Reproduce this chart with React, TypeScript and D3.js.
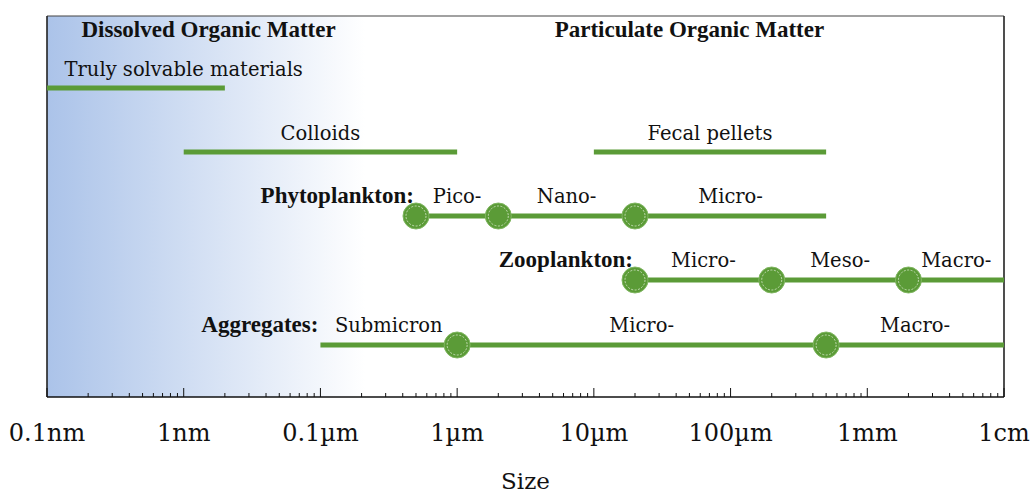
import React from "react";
import * as d3 from "d3";

const tickValues = [1e-10, 1e-9, 1e-8, 1e-7, 1e-6, 1e-5, 1e-4, 1e-3];
const tickLabels = ["0.1nm", "1nm", "0.1µm", "1µm", "10µm", "100µm", "1mm", "1cm"];

const headers = [
  { text: "Dissolved Organic Matter", at: 1.52e-9 },
  { text: "Particulate Organic Matter", at: 5e-6 },
];

// simple ranges: [start, end], label anchor value, row
const simpleRanges = [
  { name: "Truly solvable materials", start: 1e-10, end: 2e-9, labelAt: 1e-9, row: 0 },
  { name: "Colloids", start: 1e-9, end: 1e-7, labelAt: 1e-8, row: 1 },
  { name: "Fecal pellets", start: 1e-6, end: 5e-5, labelAt: 7.07e-6, row: 1 },
];

const phytoPoints = [5e-8, 2e-7, 2e-6];
const phytoEnd = 5e-5;
const phytoLabels = ["Pico-", "Nano-", "Micro-"];

const zooPoints = [2e-6, 2e-5, 2e-4];
const zooEnd = 1e-3;
const zooLabels = ["Micro-", "Meso-", "Macro-"];

const aggStart = 1e-8;
const aggPoints = [1e-7, 5e-5];
const aggEnd = 1e-3;
const aggLabels = ["Submicron", "Micro-", "Macro-"];

const W = 1032;
const H = 493;
const left = 47;
const right = 1004;
const top = 16;
const bottom = 397;
const rowY = [88, 152, 216, 280, 345];
const green = "#5b9b37";
const serif = "'DejaVu Serif', serif";
const boldSerif = "'Liberation Serif', serif";

export default function App() {
  const x = d3.scaleLog().domain([1e-10, 1e-3]).range([left, right]);

  const minor: number[] = [];
  for (let e = -10; e < -3; e++) {
    for (let k = 2; k <= 9; k++) minor.push(k * Math.pow(10, e));
  }

  const geoMid = (a: number, b: number) => Math.sqrt(a * b);

  const pointSeries = [
    { title: "Phytoplankton:", start: phytoPoints[0], pts: phytoPoints, end: phytoEnd, labels: phytoLabels, row: 2 },
    { title: "Zooplankton:", start: zooPoints[0], pts: zooPoints, end: zooEnd, labels: zooLabels, row: 3 },
    { title: "Aggregates:", start: aggStart, pts: aggPoints, end: aggEnd, labels: aggLabels, row: 4 },
  ];

  return (
    <svg
      width={W}
      height={H}
      style={{ position: "absolute", left: 0, top: 0, background: "#fff" }}
      fontFamily={serif}
    >
      <defs>
        <linearGradient id="bg" gradientUnits="userSpaceOnUse" x1={left} y1={0} x2={365} y2={0}>
          <stop offset="0%" stopColor="#abc3e9" />
          <stop offset="100%" stopColor="#ffffff" />
        </linearGradient>
      </defs>
      <rect x={left} y={top} width={365 - left} height={bottom - top} fill="url(#bg)" />

      {/* frame */}
      <line x1={left} x2={right} y1={top} y2={top} stroke="#444" strokeWidth={1.2} />
      <line x1={right} x2={right} y1={top} y2={bottom} stroke="#222" strokeWidth={1.6} />
      <line x1={left} x2={left} y1={top} y2={bottom} stroke="#222" strokeWidth={1.6} />
      <line x1={left} x2={right} y1={bottom} y2={bottom} stroke="#111" strokeWidth={1.6} />

      {/* ticks */}
      {minor.map((v, i) => (
        <line key={"m" + i} x1={x(v)} x2={x(v)} y1={bottom} y2={bottom - 4} stroke="#111" strokeWidth={1} />
      ))}
      {tickValues.map((v, i) => (
        <g key={"t" + i}>
          <line x1={x(v)} x2={x(v)} y1={bottom} y2={bottom - 9} stroke="#111" strokeWidth={1} />
          <text x={x(v)} y={441} textAnchor="middle" fontSize={24} fill="#111">
            {tickLabels[i]}
          </text>
        </g>
      ))}
      <text x={(left + right) / 2} y={489} textAnchor="middle" fontSize={23} fill="#111">
        Size
      </text>

      {/* headers */}
      {headers.map((h, i) => (
        <text key={"h" + i} x={x(h.at)} y={37} textAnchor="middle" fontSize={23} fontWeight="bold" fontFamily={boldSerif} fill="#111">
          {h.text}
        </text>
      ))}

      {/* simple ranges */}
      {simpleRanges.map((r, i) => (
        <g key={"s" + i}>
          <line x1={x(r.start)} x2={x(r.end)} y1={rowY[r.row]} y2={rowY[r.row]} stroke={green} strokeWidth={5} />
          <text x={x(r.labelAt)} y={rowY[r.row] - 12} textAnchor="middle" fontSize={19.5} fill="#111">
            {r.name}
          </text>
        </g>
      ))}

      {/* point series */}
      {pointSeries.map((s, i) => {
        const y = rowY[s.row];
        const bounds = [s.start, ...s.pts.filter((p) => p !== s.start), s.end];
        return (
          <g key={"p" + i}>
            <line x1={x(s.start)} x2={x(s.end)} y1={y} y2={y} stroke={green} strokeWidth={5} />
            <text x={x(s.start) - 2} y={y - 13} textAnchor="end" fontSize={23} fontWeight="bold" fontFamily={boldSerif} fill="#111">
              {s.title}
            </text>
            {s.labels.map((l, j) => (
              <text key={j} x={x(geoMid(bounds[j], bounds[j + 1]))} y={y - 13} textAnchor="middle" fontSize={19.5} fill="#111">
                {l}
              </text>
            ))}
            {s.pts.map((p, j) => (
              <g key={"c" + j}>
                <circle cx={x(p)} cy={y} r={13} fill={green} stroke="#7fb660" strokeWidth={1} />
                <circle cx={x(p)} cy={y} r={10} fill="none" stroke="#e8f2e0" strokeWidth={0.7} strokeDasharray="2 1.5" />
              </g>
            ))}
          </g>
        );
      })}
    </svg>
  );
}
